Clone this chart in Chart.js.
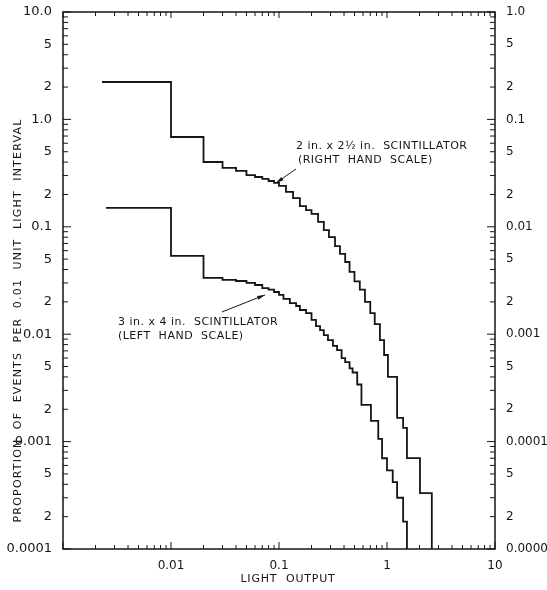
<!DOCTYPE html>
<html>
<head>
<meta charset="utf-8">
<script src="https://cdn.jsdelivr.net/npm/chart.js@4.4.0/dist/chart.umd.min.js"></script>
<style>
  html, body { margin: 0; padding: 0; background: #fff; }
  #wrap { width: 547px; height: 590px; }
</style>
</head>
<body>
<div id="wrap"><canvas id="myChart" width="547" height="590"></canvas></div>
<script>
// axis ranges
var xMin = 0.001, xMax = 10;
var leftMin = 0.0001, leftMax = 10;
var rightMin = 0.00001, rightMax = 1;

// 3 in. x 4 in. scintillator (left hand scale): bin edges and height of each bin
var bigEdges = [0.0025, 0.01, 0.02, 0.03, 0.04, 0.05, 0.06, 0.07, 0.08, 0.09, 0.10,
    0.11, 0.126, 0.144, 0.156, 0.178, 0.20, 0.22, 0.24, 0.26, 0.284, 0.316, 0.345,
    0.38, 0.41, 0.45, 0.48, 0.53, 0.58, 0.71, 0.83, 0.90, 1.0, 1.13, 1.24, 1.41, 1.53];
var bigCounts = [0.150, 0.0535, 0.0334, 0.032, 0.0313, 0.030, 0.0287, 0.0269, 0.026, 0.0247,
    0.0232, 0.0213, 0.0195, 0.0183, 0.0168, 0.0157, 0.0136, 0.0119, 0.0109, 0.0098, 0.0088,
    0.0078, 0.0071, 0.0060, 0.0055, 0.0048, 0.0044, 0.0034, 0.0022, 0.00156, 0.00106,
    0.0007, 0.00054, 0.00042, 0.00030, 0.00018];

// 2 in. x 2 1/2 in. scintillator (right hand scale)
var smallEdges = [0.0023, 0.01, 0.02, 0.03, 0.04, 0.05, 0.06, 0.07, 0.08, 0.09, 0.10,
    0.116, 0.135, 0.156, 0.178, 0.20, 0.23, 0.26, 0.29, 0.33, 0.367, 0.41, 0.45, 0.5,
    0.56, 0.625, 0.70, 0.77, 0.86, 0.94, 1.02, 1.24, 1.41, 1.53, 2.02, 2.6];
var smallCounts = [0.223, 0.0686, 0.0401, 0.0353, 0.0331, 0.0303, 0.0291, 0.0279, 0.0267, 0.0256,
    0.024, 0.0211, 0.0185, 0.0156, 0.0143, 0.0132, 0.0111, 0.0093, 0.0080, 0.0066,
    0.0056, 0.0047, 0.0038, 0.0031, 0.0026, 0.0020, 0.00157, 0.00124, 0.00088, 0.00064,
    0.0004, 0.000166, 0.000134, 0.0000703, 0.0000332];

// labelled ticks
var xTickValues = [0.01, 0.1, 1, 10];
var xTickText = ['0.01', '0.1', '1', '10'];
var leftTickValues = [10, 5, 2, 1, 0.5, 0.2, 0.1, 0.05, 0.02, 0.01, 0.005, 0.002, 0.001, 0.0005, 0.0002, 0.0001];
var leftTickText = ['10.0', '5', '2', '1.0', '5', '2', '0.1', '5', '2', '0.01', '5', '2', '0.001', '5', '2', '0.0001'];
var rightTickValues = [1, 0.5, 0.2, 0.1, 0.05, 0.02, 0.01, 0.005, 0.002, 0.001, 0.0005, 0.0002, 0.0001, 0.00005, 0.00002, 0.00001];
var rightTickText = ['1.0', '5', '2', '0.1', '5', '2', '0.01', '5', '2', '0.001', '5', '2', '0.0001', '5', '2', '0.00001'];

var ink = '#151515';
var font = 'DejaVu Sans';

// histogram -> stepped points, closing with a drop to the floor of its axis
function stepPoints(edges, counts, floor) {
    var pts = [];
    for (var i = 0; i < counts.length; i++) {
        pts.push({ x: edges[i], y: counts[i] });
    }
    pts.push({ x: edges[edges.length - 1], y: floor });
    return pts;
}

// every n x 10^k between min and max
function logTicks(min, max) {
    var out = [];
    for (var e = Math.floor(Math.log10(min)); e <= Math.ceil(Math.log10(max)); e++) {
        for (var n = 1; n <= 9; n++) {
            var v = parseFloat((n * Math.pow(10, e)).toPrecision(6));
            if (v >= min * 0.999 && v <= max * 1.001) out.push({ value: v });
        }
    }
    return out;
}

function lookup(values, text) {
    return function (v) {
        for (var i = 0; i < values.length; i++) {
            if (Math.abs(values[i] - v) / values[i] < 1e-6) return text[i];
        }
        return '';
    };
}

function isDecade(v) {
    var m = v / Math.pow(10, Math.floor(Math.log10(v) + 1e-9));
    return Math.abs(m - 1) < 1e-6;
}

function arrow(ctx, x1, y1, x2, y2) {
    var ang = Math.atan2(y2 - y1, x2 - x1);
    ctx.beginPath();
    ctx.moveTo(x1, y1);
    ctx.lineTo(x2, y2);
    ctx.stroke();
    ctx.beginPath();
    ctx.moveTo(x2, y2);
    ctx.lineTo(x2 - 8 * Math.cos(ang - 0.25), y2 - 8 * Math.sin(ang - 0.25));
    ctx.lineTo(x2 - 8 * Math.cos(ang + 0.25), y2 - 8 * Math.sin(ang + 0.25));
    ctx.closePath();
    ctx.fill();
}

// box, inward ticks, captions and axis titles
var frame = {
    id: 'frame',
    afterDraw: function (chart) {
        var ctx = chart.ctx, a = chart.chartArea;
        var sx = chart.scales.x, sy = chart.scales.y, sy2 = chart.scales.y2;
        ctx.save();
        ctx.strokeStyle = ink;
        ctx.fillStyle = ink;
        ctx.lineWidth = 1.5;
        ctx.strokeRect(a.left, a.top, a.right - a.left, a.bottom - a.top);

        ctx.lineWidth = 1;
        ctx.beginPath();
        sx.ticks.forEach(function (t) {
            var px = sx.getPixelForValue(t.value);
            var big = isDecade(t.value);
            ctx.moveTo(px, a.bottom); ctx.lineTo(px, a.bottom - (big ? 7 : 4));
            ctx.moveTo(px, a.top); ctx.lineTo(px, a.top + (big ? 6 : 4));
        });
        sy.ticks.forEach(function (t) {
            var py = sy.getPixelForValue(t.value);
            ctx.moveTo(a.left, py); ctx.lineTo(a.left + (isDecade(t.value) ? 8 : 5), py);
        });
        sy2.ticks.forEach(function (t) {
            var py = sy2.getPixelForValue(t.value);
            ctx.moveTo(a.right, py); ctx.lineTo(a.right - (isDecade(t.value) ? 8 : 5), py);
        });
        ctx.stroke();

        ctx.font = '11px "' + font + '"';
        ctx.letterSpacing = '0.5px';
        ctx.textBaseline = 'middle';
        ctx.textAlign = 'left';

        // 2 x 2 1/2 caption, arrow to its curve
        var t1x = sx.getPixelForValue(0.1435), t1y = sy2.getPixelForValue(0.0345);
        arrow(ctx, t1x, t1y, sx.getPixelForValue(0.0937), sy2.getPixelForValue(0.0256));
        ctx.fillText('2 in. x 2\u00BD in.  SCINTILLATOR', t1x, t1y - 23);
        ctx.fillText('(RIGHT  HAND  SCALE)', t1x + 2, t1y - 9);

        // 3 x 4 caption
        var t2x = sx.getPixelForValue(0.0296), t2y = sy.getPixelForValue(0.0161);
        arrow(ctx, t2x, t2y, sx.getPixelForValue(0.0741), sy.getPixelForValue(0.0232));
        ctx.fillText('3 in. x 4 in.  SCINTILLATOR', t2x - 104, t2y + 10);
        ctx.fillText('(LEFT  HAND  SCALE)', t2x - 104, t2y + 24);

        // axis titles
        ctx.letterSpacing = '0.8px';
        ctx.textAlign = 'center';
        ctx.fillText('LIGHT  OUTPUT', (a.left + a.right) / 2 + 9, 579);
        ctx.letterSpacing = '1.2px';
        ctx.translate(18, (a.top + a.bottom) / 2 + 40);
        ctx.rotate(-Math.PI / 2);
        ctx.fillText('PROPORTION  OF  EVENTS  PER  0.01  UNIT  LIGHT  INTERVAL', 0, 0);
        ctx.restore();
    }
};

var ctx = document.getElementById('myChart');
var chart = new Chart(ctx, {
    type: 'line',
    data: {
        datasets: [
            {
                label: '3 in. x 4 in.',
                data: stepPoints(bigEdges, bigCounts, leftMin),
                yAxisID: 'y',
                stepped: 'before',
                borderColor: ink,
                borderWidth: 1.8,
                pointRadius: 0,
                fill: false
            },
            {
                label: '2 in. x 2 1/2 in.',
                data: stepPoints(smallEdges, smallCounts, rightMin),
                yAxisID: 'y2',
                stepped: 'before',
                borderColor: ink,
                borderWidth: 1.8,
                pointRadius: 0,
                fill: false
            }
        ]
    },
    options: {
        responsive: false,
        animation: false,
        layout: { padding: { top: 12, left: 0, right: 0, bottom: 0 } },
        plugins: { legend: { display: false }, tooltip: { enabled: false } },
        scales: {
            x: {
                type: 'logarithmic',
                min: xMin,
                max: xMax,
                grid: { display: false },
                border: { display: false },
                afterBuildTicks: function (s) { s.ticks = logTicks(xMin, xMax); },
                afterFit: function (s) { s.height = 41; },
                ticks: {
                    autoSkip: false,
                    maxRotation: 0,
                    padding: 2,
                    color: ink,
                    font: { family: font, size: 12 },
                    callback: lookup(xTickValues, xTickText)
                }
            },
            y: {
                type: 'logarithmic',
                position: 'left',
                min: leftMin,
                max: leftMax,
                grid: { display: false },
                border: { display: false },
                afterBuildTicks: function (s) { s.ticks = logTicks(leftMin, leftMax); },
                afterFit: function (s) { s.width = 63; },
                ticks: {
                    autoSkip: false,
                    padding: 3,
                    color: ink,
                    font: { family: font, size: 13 },
                    callback: lookup(leftTickValues, leftTickText)
                }
            },
            y2: {
                type: 'logarithmic',
                position: 'right',
                min: rightMin,
                max: rightMax,
                grid: { display: false },
                border: { display: false },
                afterBuildTicks: function (s) { s.ticks = logTicks(rightMin, rightMax); },
                afterFit: function (s) { s.width = 52; },
                ticks: {
                    autoSkip: false,
                    padding: 3,
                    color: ink,
                    font: { family: font, size: 12 },
                    callback: lookup(rightTickValues, rightTickText)
                }
            }
        }
    },
    plugins: [frame]
});
</script>
</body>
</html>
